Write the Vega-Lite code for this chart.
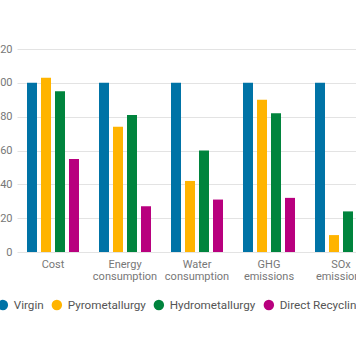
{
  "$schema": "https://vega.github.io/schema/vega-lite/v6.json",
  "autosize": {"type": "none"},
  "padding": {"left": 17, "right": -21, "top": 49, "bottom": 112},
  "width": 360,
  "height": 203,
  "background": "white",
  "config": {
    "font": "Roboto",
    "view": {"stroke": null},
    "axis": {"labelFont": "Roboto", "labelColor": "#777777", "labelFontSize": 11, "gridColor": "#e3e3e3", "domain": false, "ticks": false},
    "legend": {"labelFont": "Roboto", "labelColor": "#555555", "labelFontSize": 11.7}
  },
  "data": {
    "values": [
      {"metric": "Cost", "method": "Virgin", "value": 100},
      {"metric": "Cost", "method": "Pyrometallurgy", "value": 103},
      {"metric": "Cost", "method": "Hydrometallurgy", "value": 95},
      {"metric": "Cost", "method": "Direct Recycling", "value": 55},
      {"metric": "Energy consumption", "method": "Virgin", "value": 100},
      {"metric": "Energy consumption", "method": "Pyrometallurgy", "value": 74},
      {"metric": "Energy consumption", "method": "Hydrometallurgy", "value": 81},
      {"metric": "Energy consumption", "method": "Direct Recycling", "value": 27},
      {"metric": "Water consumption", "method": "Virgin", "value": 100},
      {"metric": "Water consumption", "method": "Pyrometallurgy", "value": 42},
      {"metric": "Water consumption", "method": "Hydrometallurgy", "value": 60},
      {"metric": "Water consumption", "method": "Direct Recycling", "value": 31},
      {"metric": "GHG emissions", "method": "Virgin", "value": 100},
      {"metric": "GHG emissions", "method": "Pyrometallurgy", "value": 90},
      {"metric": "GHG emissions", "method": "Hydrometallurgy", "value": 82},
      {"metric": "GHG emissions", "method": "Direct Recycling", "value": 32},
      {"metric": "SOx emissions", "method": "Virgin", "value": 100},
      {"metric": "SOx emissions", "method": "Pyrometallurgy", "value": 10},
      {"metric": "SOx emissions", "method": "Hydrometallurgy", "value": 24},
      {"metric": "SOx emissions", "method": "Direct Recycling", "value": 3}
    ]
  },
  "mark": {"type": "bar"},
  "encoding": {
    "x": {
      "field": "metric", "type": "nominal", "sort": null,
      "scale": {"paddingInner": 0.2778, "paddingOuter": 0.1389},
      "axis": {"title": null, "labelAngle": 0, "labelExpr": "split(datum.label, ' ')", "labelLineHeight": 12, "labelPadding": 6, "grid": false}
    },
    "xOffset": {
      "field": "method", "type": "nominal", "sort": ["Virgin", "Pyrometallurgy", "Hydrometallurgy", "Direct Recycling"],
      "scale": {"paddingInner": 0.2857, "paddingOuter": 0}
    },
    "y": {
      "field": "value", "type": "quantitative",
      "scale": {"domain": [0, 120], "nice": false},
      "axis": {"title": null, "values": [0, 20, 40, 60, 80, 100, 120], "labelPadding": 5}
    },
    "color": {
      "field": "method", "type": "nominal",
      "sort": ["Virgin", "Pyrometallurgy", "Hydrometallurgy", "Direct Recycling"],
      "scale": {"domain": ["Virgin", "Pyrometallurgy", "Hydrometallurgy", "Direct Recycling"], "range": ["#0073a6", "#ffb400", "#00843d", "#b8007e"]},
      "legend": {"title": null, "orient": "none", "direction": "horizontal", "legendX": -20, "legendY": 250, "symbolType": "circle", "symbolSize": 110, "symbolStrokeWidth": 0, "symbolOpacity": 1, "labelOffset": 5, "columnPadding": 7}
    }
  }
}
